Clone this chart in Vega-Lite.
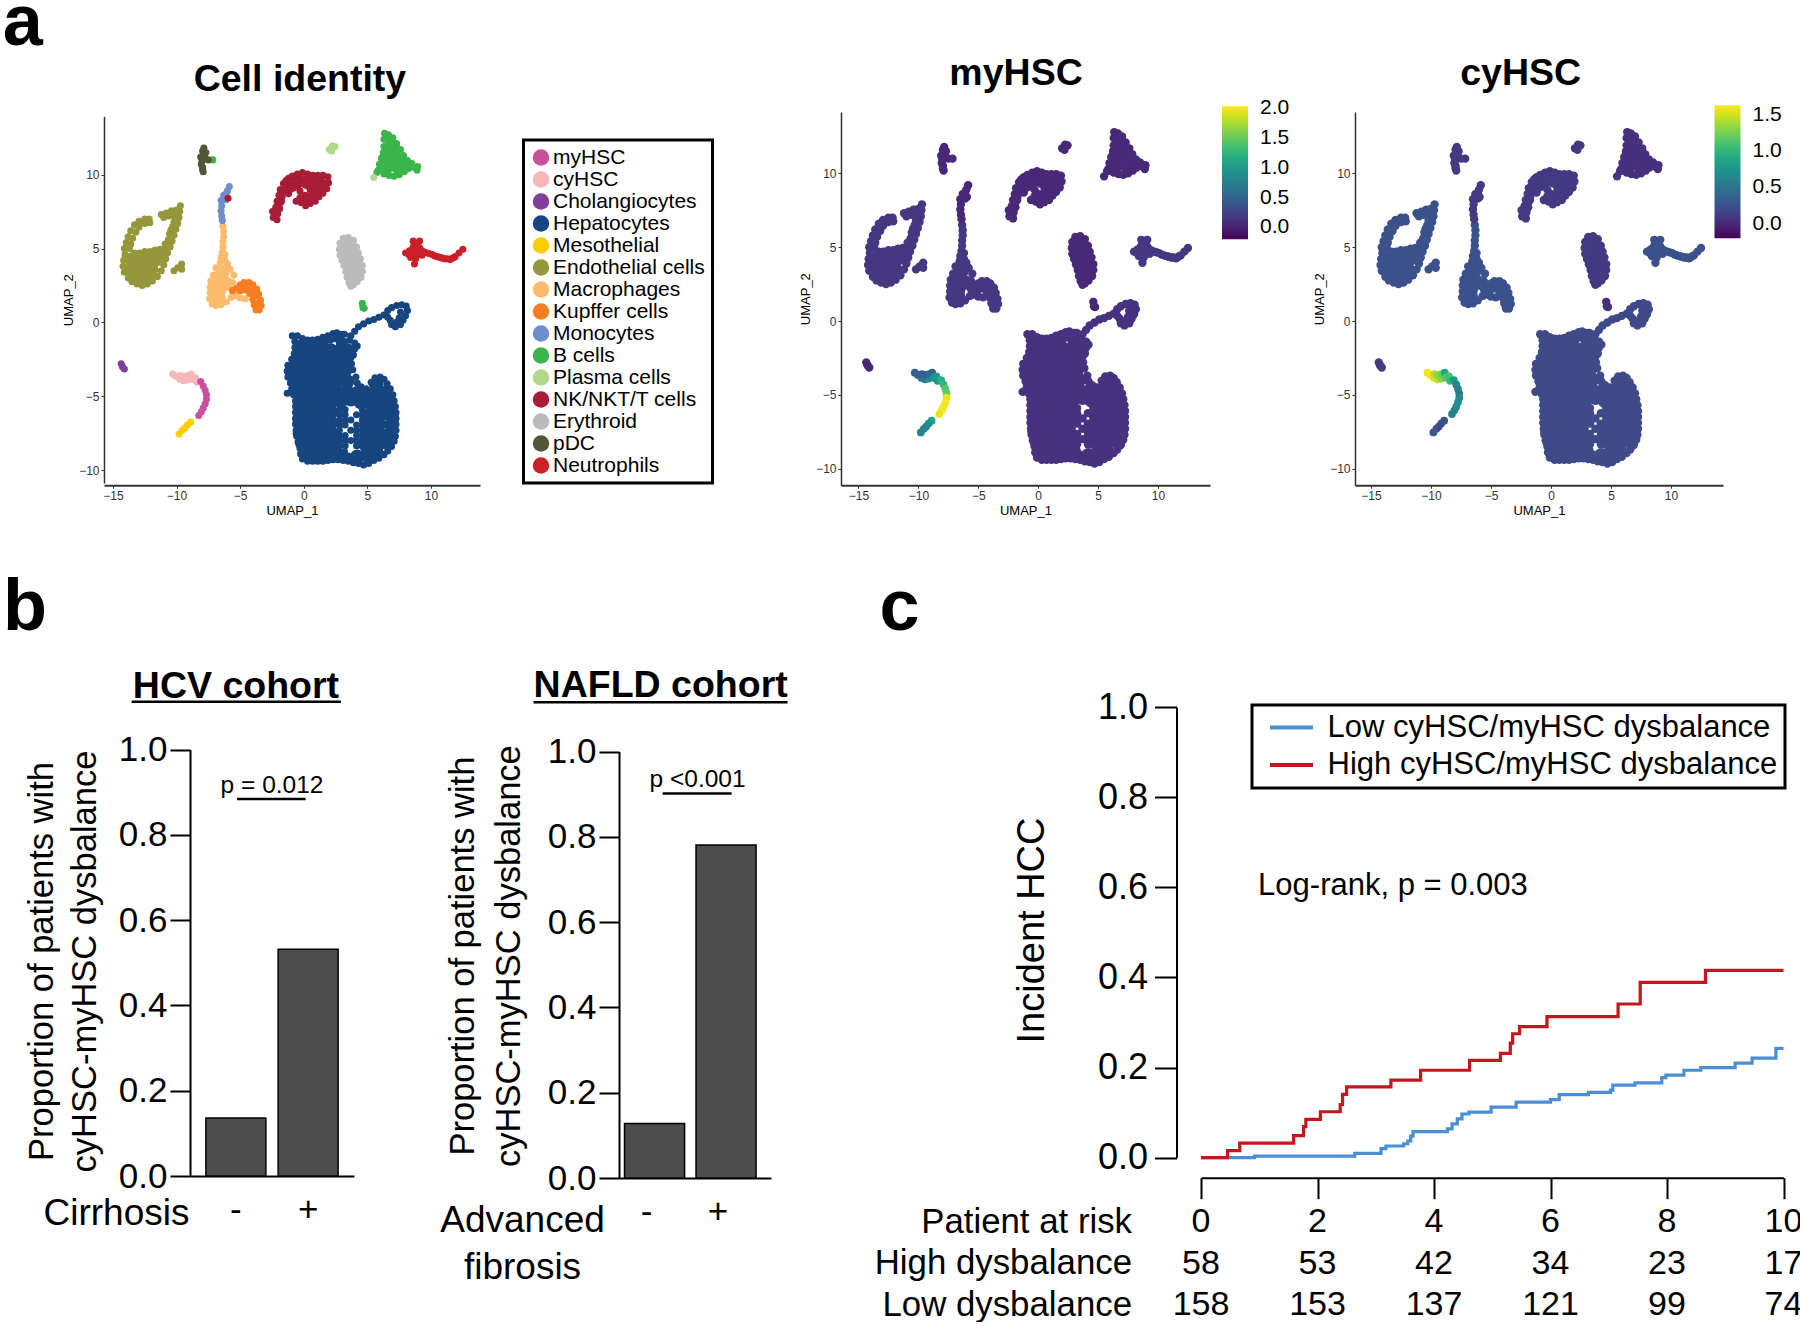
{"$schema":"https://vega.github.io/schema/vega-lite/v6.json","background":"white","padding":{"left":2,"top":-13,"right":0,"bottom":0},
"config":{"font":"Liberation Sans","view":{"stroke":null},"axis":{"grid":false},"legend":{"strokeWidth":3}},
"resolve":{"scale":{"color":"independent"},"legend":{"color":"independent"}},
"datasets":{
"expr":[{"c":"Hepatocytes","m":0.12,"k":0.2},{"c":"Endothelial cells","m":0.15,"k":0.25},{"c":"Macrophages","m":0.15,"k":0.25},{"c":"Kupffer cells","m":0.15,"k":0.25},{"c":"Monocytes","m":0.05,"k":0.1},{"c":"NK/NKT/T cells","m":0.05,"k":0.1},{"c":"B cells","m":0.05,"k":0.05},{"c":"Plasma cells","m":0.05,"k":0.1},{"c":"pDC","m":0.05,"k":0.1},{"c":"Erythroid","m":0.05,"k":0.1},{"c":"Neutrophils","m":0.15,"k":0.25},{"c":"Cholangiocytes","m":0.05,"k":0.1}],
"hsc":[{"x":-10.3,"y":-3.5,"c":"cyHSC","m":0.45,"k":1.6},{"x":-10.05,"y":-3.65,"c":"cyHSC","m":0.5,"k":1.6},{"x":-9.75,"y":-3.85,"c":"cyHSC","m":0.6,"k":1.55},{"x":-9.45,"y":-3.95,"c":"cyHSC","m":0.7,"k":1.45},{"x":-9.15,"y":-3.9,"c":"cyHSC","m":0.9,"k":1.3},{"x":-9.7,"y":-3.6,"c":"cyHSC","m":0.45,"k":1.4},{"x":-9.4,"y":-3.65,"c":"cyHSC","m":0.5,"k":1.3},{"x":-9.1,"y":-3.6,"c":"cyHSC","m":0.6,"k":1.2},{"x":-8.85,"y":-3.5,"c":"cyHSC","m":0.5,"k":0.9},{"x":-8.75,"y":-3.85,"c":"cyHSC","m":0.9,"k":1.15},{"x":-8.5,"y":-3.75,"c":"cyHSC","m":1.0,"k":1.1},{"x":-8.4,"y":-4.05,"c":"cyHSC","m":1.0,"k":1.0},{"x":-8.1,"y":-4.0,"c":"myHSC","m":1.2,"k":0.8},{"x":-7.9,"y":-4.3,"c":"myHSC","m":1.3,"k":0.6},{"x":-7.75,"y":-4.6,"c":"myHSC","m":1.45,"k":0.6},{"x":-7.65,"y":-4.9,"c":"myHSC","m":1.5,"k":0.55},{"x":-7.65,"y":-5.2,"c":"myHSC","m":1.95,"k":0.65},{"x":-7.75,"y":-5.5,"c":"myHSC","m":2.0,"k":0.7},{"x":-7.9,"y":-5.8,"c":"myHSC","m":2.0,"k":0.7},{"x":-8.05,"y":-6.05,"c":"myHSC","m":2.0,"k":0.65},{"x":-8.25,"y":-6.3,"c":"myHSC","m":1.95,"k":0.6},{"x":-8.9,"y":-6.75,"c":"Mesothelial","m":1.1,"k":0.25},{"x":-9.15,"y":-6.95,"c":"Mesothelial","m":0.9,"k":0.25},{"x":-9.35,"y":-7.15,"c":"Mesothelial","m":0.85,"k":0.2},{"x":-9.55,"y":-7.3,"c":"Mesothelial","m":0.8,"k":0.2},{"x":-9.8,"y":-7.55,"c":"Mesothelial","m":0.8,"k":0.3}],
"core":[
{"x":-0.3,"y":-1.9,"c":"Hepatocytes"},{"x":0.5,"y":-1.9,"c":"Hepatocytes"},{"x":1.3,"y":-1.9,"c":"Hepatocytes"},{"x":2.1,"y":-1.9,"c":"Hepatocytes"},{"x":2.9,"y":-1.9,"c":"Hepatocytes"},{"x":3.4,"y":-1.9,"c":"Hepatocytes"},
{"x":-0.6,"y":-2.6,"c":"Hepatocytes"},{"x":0.2,"y":-2.6,"c":"Hepatocytes"},{"x":1.0,"y":-2.6,"c":"Hepatocytes"},{"x":1.8,"y":-2.6,"c":"Hepatocytes"},{"x":2.6,"y":-2.6,"c":"Hepatocytes"},{"x":3.3,"y":-2.6,"c":"Hepatocytes"},
{"x":-0.9,"y":-3.3,"c":"Hepatocytes"},{"x":-0.1,"y":-3.3,"c":"Hepatocytes"},{"x":0.7,"y":-3.3,"c":"Hepatocytes"},{"x":1.5,"y":-3.3,"c":"Hepatocytes"},{"x":2.3,"y":-3.3,"c":"Hepatocytes"},{"x":3.2,"y":-3.3,"c":"Hepatocytes"},
{"x":-0.7,"y":-4.0,"c":"Hepatocytes"},{"x":0.1,"y":-4.0,"c":"Hepatocytes"},{"x":0.9,"y":-4.0,"c":"Hepatocytes"},{"x":1.7,"y":-4.0,"c":"Hepatocytes"},{"x":2.5,"y":-4.0,"c":"Hepatocytes"},{"x":3.4,"y":-4.0,"c":"Hepatocytes"},{"x":5.7,"y":-4.2,"c":"Hepatocytes"},
{"x":-0.5,"y":-4.7,"c":"Hepatocytes"},{"x":0.2,"y":-4.7,"c":"Hepatocytes"},{"x":1.0,"y":-4.7,"c":"Hepatocytes"},{"x":1.8,"y":-4.7,"c":"Hepatocytes"},{"x":2.6,"y":-4.7,"c":"Hepatocytes"},{"x":3.4,"y":-4.7,"c":"Hepatocytes"},{"x":4.2,"y":-4.8,"c":"Hepatocytes"},{"x":5.0,"y":-4.9,"c":"Hepatocytes"},{"x":5.8,"y":-4.8,"c":"Hepatocytes"},{"x":6.3,"y":-4.8,"c":"Hepatocytes"},
{"x":-0.3,"y":-5.4,"c":"Hepatocytes"},{"x":0.5,"y":-5.4,"c":"Hepatocytes"},{"x":1.3,"y":-5.4,"c":"Hepatocytes"},{"x":2.1,"y":-5.4,"c":"Hepatocytes"},{"x":2.9,"y":-5.3,"c":"Hepatocytes"},{"x":3.7,"y":-5.2,"c":"Hepatocytes"},{"x":4.5,"y":-5.4,"c":"Hepatocytes"},{"x":5.3,"y":-5.5,"c":"Hepatocytes"},{"x":6.1,"y":-5.5,"c":"Hepatocytes"},{"x":6.7,"y":-5.5,"c":"Hepatocytes"},
{"x":-0.3,"y":-6.1,"c":"Hepatocytes"},{"x":0.5,"y":-6.1,"c":"Hepatocytes"},{"x":1.3,"y":-6.1,"c":"Hepatocytes"},{"x":2.1,"y":-6.1,"c":"Hepatocytes"},{"x":5.3,"y":-6.2,"c":"Hepatocytes"},{"x":6.1,"y":-6.2,"c":"Hepatocytes"},{"x":6.9,"y":-6.2,"c":"Hepatocytes"},
{"x":-0.3,"y":-6.8,"c":"Hepatocytes"},{"x":0.5,"y":-6.8,"c":"Hepatocytes"},{"x":1.3,"y":-6.8,"c":"Hepatocytes"},{"x":2.1,"y":-6.8,"c":"Hepatocytes"},{"x":5.1,"y":-6.9,"c":"Hepatocytes"},{"x":5.9,"y":-6.9,"c":"Hepatocytes"},{"x":6.9,"y":-6.9,"c":"Hepatocytes"},
{"x":-0.3,"y":-7.5,"c":"Hepatocytes"},{"x":0.5,"y":-7.5,"c":"Hepatocytes"},{"x":1.3,"y":-7.5,"c":"Hepatocytes"},{"x":2.1,"y":-7.5,"c":"Hepatocytes"},{"x":5.1,"y":-7.6,"c":"Hepatocytes"},{"x":5.9,"y":-7.6,"c":"Hepatocytes"},{"x":6.7,"y":-7.6,"c":"Hepatocytes"},
{"x":-0.1,"y":-8.2,"c":"Hepatocytes"},{"x":0.7,"y":-8.2,"c":"Hepatocytes"},{"x":1.5,"y":-8.2,"c":"Hepatocytes"},{"x":2.3,"y":-8.2,"c":"Hepatocytes"},{"x":4.9,"y":-8.3,"c":"Hepatocytes"},{"x":5.7,"y":-8.3,"c":"Hepatocytes"},{"x":6.4,"y":-8.1,"c":"Hepatocytes"},
{"x":0.3,"y":-8.9,"c":"Hepatocytes"},{"x":1.0,"y":-8.9,"c":"Hepatocytes"},{"x":1.8,"y":-8.9,"c":"Hepatocytes"},{"x":2.6,"y":-8.9,"c":"Hepatocytes"},{"x":4.2,"y":-9.1,"c":"Hepatocytes"},{"x":5.0,"y":-9.0,"c":"Hepatocytes"},{"x":5.7,"y":-8.8,"c":"Hepatocytes"},
{"x":-13.5,"y":4.25,"c":"Endothelial cells"},{"x":-12.9,"y":4.25,"c":"Endothelial cells"},{"x":-12.1,"y":4.25,"c":"Endothelial cells"},{"x":-11.5,"y":4.3,"c":"Endothelial cells"},{"x":-13.5,"y":3.6,"c":"Endothelial cells"},{"x":-12.8,"y":3.6,"c":"Endothelial cells"},{"x":-12.0,"y":3.6,"c":"Endothelial cells"},{"x":-13.0,"y":3.0,"c":"Endothelial cells"},{"x":-12.3,"y":3.1,"c":"Endothelial cells"},
{"x":-6.4,"y":3.4,"c":"Macrophages"},{"x":-6.7,"y":2.8,"c":"Macrophages"},{"x":-6.7,"y":2.1,"c":"Macrophages"},{"x":-6.7,"y":1.7,"c":"Macrophages"},{"x":-6.1,"y":2.6,"c":"Macrophages"},
{"x":-0.5,"y":9.55,"c":"NK/NKT/T cells"},{"x":0.3,"y":9.5,"c":"NK/NKT/T cells"},{"x":1.2,"y":9.4,"c":"NK/NKT/T cells"},{"x":0.8,"y":9.0,"c":"NK/NKT/T cells"},
{"x":6.9,"y":11.9,"c":"B cells"},{"x":6.8,"y":11.3,"c":"B cells"},{"x":7.3,"y":11.1,"c":"B cells"},{"x":6.6,"y":10.6,"c":"B cells"},{"x":7.4,"y":10.55,"c":"B cells"},
{"x":3.5,"y":5.1,"c":"Erythroid"},{"x":3.6,"y":4.5,"c":"Erythroid"},{"x":3.85,"y":3.85,"c":"Erythroid"},{"x":4.0,"y":3.3,"c":"Erythroid"}],
"edge":[
{"x":-0.9,"y":-0.9,"c":"Hepatocytes"},{"x":-0.5,"y":-0.9,"c":"Hepatocytes"},{"x":-0.1,"y":-1.1,"c":"Hepatocytes"},{"x":0.3,"y":-1.2,"c":"Hepatocytes"},{"x":0.7,"y":-1.2,"c":"Hepatocytes"},{"x":1.1,"y":-1.15,"c":"Hepatocytes"},{"x":1.5,"y":-1.0,"c":"Hepatocytes"},{"x":1.9,"y":-0.9,"c":"Hepatocytes"},{"x":2.3,"y":-0.75,"c":"Hepatocytes"},{"x":2.6,"y":-0.7,"c":"Hepatocytes"},
{"x":-0.7,"y":-1.3,"c":"Hepatocytes"},{"x":-0.3,"y":-1.4,"c":"Hepatocytes"},{"x":0.1,"y":-1.5,"c":"Hepatocytes"},{"x":0.5,"y":-1.5,"c":"Hepatocytes"},{"x":0.9,"y":-1.5,"c":"Hepatocytes"},{"x":1.3,"y":-1.4,"c":"Hepatocytes"},{"x":1.7,"y":-1.3,"c":"Hepatocytes"},{"x":2.1,"y":-1.2,"c":"Hepatocytes"},{"x":2.5,"y":-1.1,"c":"Hepatocytes"},{"x":2.9,"y":-1.1,"c":"Hepatocytes"},{"x":3.2,"y":-0.8,"c":"Hepatocytes"},{"x":3.0,"y":-0.8,"c":"Hepatocytes"},{"x":2.8,"y":-1.4,"c":"Hepatocytes"},{"x":3.2,"y":-1.3,"c":"Hepatocytes"},{"x":3.6,"y":-1.2,"c":"Hepatocytes"},{"x":4.0,"y":-1.4,"c":"Hepatocytes"},{"x":4.0,"y":-1.8,"c":"Hepatocytes"},{"x":3.9,"y":-2.2,"c":"Hepatocytes"},{"x":4.2,"y":-1.6,"c":"Hepatocytes"},
{"x":3.7,"y":-0.9,"c":"Hepatocytes"},{"x":4.0,"y":-0.6,"c":"Hepatocytes"},{"x":4.3,"y":-0.3,"c":"Hepatocytes"},{"x":4.7,"y":-0.1,"c":"Hepatocytes"},{"x":5.1,"y":0.1,"c":"Hepatocytes"},{"x":5.5,"y":0.2,"c":"Hepatocytes"},{"x":5.9,"y":0.35,"c":"Hepatocytes"},{"x":6.3,"y":0.5,"c":"Hepatocytes"},{"x":6.6,"y":0.8,"c":"Hepatocytes"},{"x":6.9,"y":1.0,"c":"Hepatocytes"},{"x":7.3,"y":1.15,"c":"Hepatocytes"},{"x":7.7,"y":1.2,"c":"Hepatocytes"},{"x":8.05,"y":1.1,"c":"Hepatocytes"},{"x":8.15,"y":0.8,"c":"Hepatocytes"},{"x":8.0,"y":0.45,"c":"Hepatocytes"},{"x":7.8,"y":0.15,"c":"Hepatocytes"},{"x":7.6,"y":-0.15,"c":"Hepatocytes"},{"x":7.2,"y":-0.3,"c":"Hepatocytes"},{"x":6.9,"y":-0.15,"c":"Hepatocytes"},{"x":6.8,"y":0.15,"c":"Hepatocytes"},{"x":6.6,"y":0.35,"c":"Hepatocytes"},{"x":7.3,"y":0.0,"c":"Hepatocytes"},{"x":7.5,"y":0.3,"c":"Hepatocytes"},{"x":7.6,"y":0.7,"c":"Hepatocytes"},
{"x":-0.7,"y":-1.7,"c":"Hepatocytes"},{"x":-0.75,"y":-2.1,"c":"Hepatocytes"},{"x":-0.95,"y":-2.5,"c":"Hepatocytes"},{"x":-1.25,"y":-2.9,"c":"Hepatocytes"},{"x":-1.3,"y":-3.3,"c":"Hepatocytes"},{"x":-1.25,"y":-3.7,"c":"Hepatocytes"},{"x":-1.05,"y":-4.1,"c":"Hepatocytes"},{"x":-0.95,"y":-4.5,"c":"Hepatocytes"},{"x":-0.8,"y":-4.9,"c":"Hepatocytes"},{"x":-0.65,"y":-5.3,"c":"Hepatocytes"},{"x":-0.65,"y":-5.7,"c":"Hepatocytes"},{"x":-0.65,"y":-6.1,"c":"Hepatocytes"},{"x":-0.65,"y":-6.5,"c":"Hepatocytes"},{"x":-0.65,"y":-6.9,"c":"Hepatocytes"},{"x":-0.6,"y":-7.3,"c":"Hepatocytes"},{"x":-0.55,"y":-7.7,"c":"Hepatocytes"},{"x":-0.45,"y":-8.1,"c":"Hepatocytes"},{"x":-0.3,"y":-8.5,"c":"Hepatocytes"},{"x":-0.25,"y":-8.9,"c":"Hepatocytes"},{"x":-0.1,"y":-9.25,"c":"Hepatocytes"},{"x":-1.3,"y":-4.8,"c":"Hepatocytes"},
{"x":0.3,"y":-9.4,"c":"Hepatocytes"},{"x":0.7,"y":-9.4,"c":"Hepatocytes"},{"x":1.1,"y":-9.4,"c":"Hepatocytes"},{"x":1.5,"y":-9.4,"c":"Hepatocytes"},{"x":1.9,"y":-9.35,"c":"Hepatocytes"},{"x":2.3,"y":-9.3,"c":"Hepatocytes"},{"x":2.7,"y":-9.3,"c":"Hepatocytes"},{"x":3.1,"y":-9.35,"c":"Hepatocytes"},{"x":3.5,"y":-9.4,"c":"Hepatocytes"},{"x":3.9,"y":-9.5,"c":"Hepatocytes"},{"x":4.3,"y":-9.55,"c":"Hepatocytes"},{"x":4.7,"y":-9.65,"c":"Hepatocytes"},{"x":5.1,"y":-9.55,"c":"Hepatocytes"},{"x":5.5,"y":-9.35,"c":"Hepatocytes"},{"x":5.9,"y":-9.2,"c":"Hepatocytes"},{"x":6.3,"y":-8.95,"c":"Hepatocytes"},{"x":6.6,"y":-8.7,"c":"Hepatocytes"},{"x":6.9,"y":-8.4,"c":"Hepatocytes"},{"x":7.1,"y":-8.05,"c":"Hepatocytes"},{"x":7.2,"y":-7.7,"c":"Hepatocytes"},
{"x":7.25,"y":-7.3,"c":"Hepatocytes"},{"x":7.25,"y":-6.9,"c":"Hepatocytes"},{"x":7.25,"y":-6.5,"c":"Hepatocytes"},{"x":7.25,"y":-6.1,"c":"Hepatocytes"},{"x":7.2,"y":-5.7,"c":"Hepatocytes"},{"x":7.1,"y":-5.3,"c":"Hepatocytes"},{"x":7.0,"y":-4.9,"c":"Hepatocytes"},{"x":6.8,"y":-4.5,"c":"Hepatocytes"},{"x":6.55,"y":-4.15,"c":"Hepatocytes"},{"x":6.3,"y":-3.85,"c":"Hepatocytes"},{"x":6.0,"y":-3.7,"c":"Hepatocytes"},{"x":5.6,"y":-3.75,"c":"Hepatocytes"},{"x":5.3,"y":-4.05,"c":"Hepatocytes"},{"x":4.9,"y":-4.5,"c":"Hepatocytes"},{"x":4.5,"y":-4.35,"c":"Hepatocytes"},{"x":4.2,"y":-4.1,"c":"Hepatocytes"},{"x":4.1,"y":-3.7,"c":"Hepatocytes"},{"x":3.85,"y":-3.2,"c":"Hepatocytes"},{"x":3.75,"y":-2.8,"c":"Hepatocytes"},{"x":3.7,"y":-2.4,"c":"Hepatocytes"},
{"x":2.8,"y":-5.9,"c":"Hepatocytes"},{"x":3.25,"y":-5.9,"c":"Hepatocytes"},{"x":4.6,"y":-5.9,"c":"Hepatocytes"},{"x":2.8,"y":-6.25,"c":"Hepatocytes"},{"x":3.25,"y":-6.25,"c":"Hepatocytes"},{"x":4.15,"y":-6.25,"c":"Hepatocytes"},{"x":4.6,"y":-6.25,"c":"Hepatocytes"},{"x":2.8,"y":-6.6,"c":"Hepatocytes"},{"x":3.25,"y":-6.6,"c":"Hepatocytes"},{"x":3.7,"y":-6.6,"c":"Hepatocytes"},{"x":4.6,"y":-6.6,"c":"Hepatocytes"},{"x":2.8,"y":-6.95,"c":"Hepatocytes"},{"x":3.25,"y":-6.95,"c":"Hepatocytes"},{"x":4.15,"y":-6.95,"c":"Hepatocytes"},{"x":4.6,"y":-6.95,"c":"Hepatocytes"},{"x":2.8,"y":-7.3,"c":"Hepatocytes"},{"x":3.7,"y":-7.3,"c":"Hepatocytes"},{"x":4.15,"y":-7.3,"c":"Hepatocytes"},{"x":4.6,"y":-7.3,"c":"Hepatocytes"},{"x":2.8,"y":-7.65,"c":"Hepatocytes"},{"x":3.25,"y":-7.65,"c":"Hepatocytes"},{"x":4.15,"y":-7.65,"c":"Hepatocytes"},{"x":4.6,"y":-7.65,"c":"Hepatocytes"},{"x":2.8,"y":-8.0,"c":"Hepatocytes"},{"x":3.25,"y":-8.0,"c":"Hepatocytes"},{"x":3.7,"y":-8.0,"c":"Hepatocytes"},{"x":4.15,"y":-8.0,"c":"Hepatocytes"},{"x":4.6,"y":-8.0,"c":"Hepatocytes"},{"x":2.8,"y":-8.35,"c":"Hepatocytes"},{"x":3.25,"y":-8.35,"c":"Hepatocytes"},{"x":4.15,"y":-8.35,"c":"Hepatocytes"},{"x":4.6,"y":-8.35,"c":"Hepatocytes"},{"x":3.2,"y":-8.75,"c":"Hepatocytes"},{"x":3.5,"y":-9.05,"c":"Hepatocytes"},{"x":3.0,"y":-9.0,"c":"Hepatocytes"},
{"x":-14.1,"y":5.0,"c":"Endothelial cells"},{"x":-14.05,"y":4.6,"c":"Endothelial cells"},{"x":-14.15,"y":4.2,"c":"Endothelial cells"},{"x":-14.2,"y":3.8,"c":"Endothelial cells"},{"x":-14.1,"y":3.4,"c":"Endothelial cells"},{"x":-13.8,"y":3.0,"c":"Endothelial cells"},{"x":-13.5,"y":2.75,"c":"Endothelial cells"},{"x":-13.1,"y":2.6,"c":"Endothelial cells"},{"x":-12.7,"y":2.5,"c":"Endothelial cells"},{"x":-12.3,"y":2.6,"c":"Endothelial cells"},{"x":-11.9,"y":2.8,"c":"Endothelial cells"},{"x":-11.5,"y":3.1,"c":"Endothelial cells"},{"x":-11.2,"y":3.5,"c":"Endothelial cells"},{"x":-11.0,"y":3.9,"c":"Endothelial cells"},{"x":-10.85,"y":4.3,"c":"Endothelial cells"},{"x":-10.7,"y":4.7,"c":"Endothelial cells"},{"x":-13.7,"y":5.0,"c":"Endothelial cells"},{"x":-13.3,"y":4.7,"c":"Endothelial cells"},{"x":-12.9,"y":4.7,"c":"Endothelial cells"},{"x":-12.5,"y":4.8,"c":"Endothelial cells"},{"x":-12.1,"y":4.8,"c":"Endothelial cells"},{"x":-11.7,"y":4.9,"c":"Endothelial cells"},{"x":-11.3,"y":4.95,"c":"Endothelial cells"},{"x":-11.0,"y":4.9,"c":"Endothelial cells"},{"x":-13.95,"y":5.4,"c":"Endothelial cells"},{"x":-13.8,"y":5.8,"c":"Endothelial cells"},{"x":-13.6,"y":6.2,"c":"Endothelial cells"},{"x":-13.3,"y":6.6,"c":"Endothelial cells"},{"x":-12.95,"y":6.85,"c":"Endothelial cells"},{"x":-12.5,"y":7.0,"c":"Endothelial cells"},{"x":-12.15,"y":7.0,"c":"Endothelial cells"},{"x":-10.5,"y":5.1,"c":"Endothelial cells"},{"x":-10.35,"y":5.5,"c":"Endothelial cells"},{"x":-10.2,"y":5.9,"c":"Endothelial cells"},{"x":-10.05,"y":6.3,"c":"Endothelial cells"},{"x":-9.9,"y":6.7,"c":"Endothelial cells"},{"x":-9.8,"y":7.1,"c":"Endothelial cells"},{"x":-9.75,"y":7.5,"c":"Endothelial cells"},{"x":-9.7,"y":7.9,"c":"Endothelial cells"},{"x":-10.0,"y":7.6,"c":"Endothelial cells"},{"x":-10.1,"y":7.1,"c":"Endothelial cells"},{"x":-10.3,"y":6.5,"c":"Endothelial cells"},{"x":-10.55,"y":6.0,"c":"Endothelial cells"},{"x":-10.75,"y":5.2,"c":"Endothelial cells"},{"x":-10.65,"y":5.6,"c":"Endothelial cells"},{"x":-11.2,"y":7.3,"c":"Endothelial cells"},{"x":-10.8,"y":7.4,"c":"Endothelial cells"},{"x":-10.4,"y":7.55,"c":"Endothelial cells"},{"x":-11.0,"y":7.1,"c":"Endothelial cells"},{"x":-10.2,"y":3.5,"c":"Endothelial cells"},{"x":-9.9,"y":3.7,"c":"Endothelial cells"},{"x":-9.6,"y":3.95,"c":"Endothelial cells"},{"x":-9.6,"y":3.6,"c":"Endothelial cells"},
{"x":-13.6,"y":5.3,"c":"Endothelial cells"},{"x":-13.45,"y":5.7,"c":"Endothelial cells"},{"x":-13.2,"y":6.1,"c":"Endothelial cells"},{"x":-12.95,"y":6.45,"c":"Endothelial cells"},{"x":-12.5,"y":6.7,"c":"Endothelial cells"},{"x":-12.1,"y":6.75,"c":"Endothelial cells"},{"x":-10.9,"y":4.95,"c":"Endothelial cells"},{"x":-10.9,"y":5.3,"c":"Endothelial cells"},{"x":-10.45,"y":6.25,"c":"Endothelial cells"},{"x":-10.2,"y":6.8,"c":"Endothelial cells"},{"x":-9.95,"y":7.3,"c":"Endothelial cells"},{"x":-10.6,"y":7.2,"c":"Endothelial cells"},{"x":-10.2,"y":7.4,"c":"Endothelial cells"},{"x":-11.1,"y":4.6,"c":"Endothelial cells"},
{"x":-6.35,"y":6.5,"c":"Macrophages"},{"x":-6.3,"y":6.15,"c":"Macrophages"},{"x":-6.3,"y":5.8,"c":"Macrophages"},{"x":-6.35,"y":5.45,"c":"Macrophages"},{"x":-6.35,"y":5.1,"c":"Macrophages"},{"x":-6.4,"y":4.75,"c":"Macrophages"},{"x":-6.5,"y":4.4,"c":"Macrophages"},{"x":-6.2,"y":4.6,"c":"Macrophages"},{"x":-6.2,"y":4.2,"c":"Macrophages"},{"x":-6.55,"y":4.05,"c":"Macrophages"},{"x":-7.1,"y":3.2,"c":"Macrophages"},{"x":-7.3,"y":2.8,"c":"Macrophages"},{"x":-7.35,"y":2.4,"c":"Macrophages"},{"x":-7.35,"y":2.0,"c":"Macrophages"},{"x":-7.4,"y":1.6,"c":"Macrophages"},{"x":-7.2,"y":1.25,"c":"Macrophages"},{"x":-6.9,"y":1.15,"c":"Macrophages"},{"x":-6.5,"y":1.2,"c":"Macrophages"},{"x":-6.1,"y":1.4,"c":"Macrophages"},{"x":-5.7,"y":1.7,"c":"Macrophages"},{"x":-5.3,"y":1.8,"c":"Macrophages"},{"x":-5.0,"y":1.65,"c":"Macrophages"},{"x":-4.6,"y":1.6,"c":"Macrophages"},{"x":-5.6,"y":2.7,"c":"Macrophages"},{"x":-5.5,"y":3.2,"c":"Macrophages"},{"x":-5.8,"y":3.6,"c":"Macrophages"},{"x":-6.0,"y":3.95,"c":"Macrophages"},{"x":-6.9,"y":3.7,"c":"Macrophages"},{"x":-5.4,"y":2.3,"c":"Macrophages"},{"x":-5.5,"y":1.9,"c":"Macrophages"},
{"x":-5.6,"y":2.15,"c":"Kupffer cells"},{"x":-5.3,"y":2.3,"c":"Kupffer cells"},{"x":-5.0,"y":2.55,"c":"Kupffer cells"},{"x":-4.7,"y":2.7,"c":"Kupffer cells"},{"x":-4.3,"y":2.7,"c":"Kupffer cells"},{"x":-4.0,"y":2.55,"c":"Kupffer cells"},{"x":-3.7,"y":2.25,"c":"Kupffer cells"},{"x":-3.55,"y":1.9,"c":"Kupffer cells"},{"x":-3.4,"y":1.5,"c":"Kupffer cells"},{"x":-3.35,"y":1.15,"c":"Kupffer cells"},{"x":-3.5,"y":0.85,"c":"Kupffer cells"},{"x":-3.75,"y":0.85,"c":"Kupffer cells"},{"x":-3.9,"y":1.2,"c":"Kupffer cells"},{"x":-4.0,"y":1.55,"c":"Kupffer cells"},{"x":-4.25,"y":1.95,"c":"Kupffer cells"},{"x":-4.6,"y":2.2,"c":"Kupffer cells"},{"x":-5.0,"y":2.15,"c":"Kupffer cells"},{"x":-4.5,"y":2.4,"c":"Kupffer cells"},{"x":-4.1,"y":2.2,"c":"Kupffer cells"},{"x":-3.8,"y":1.8,"c":"Kupffer cells"},{"x":-3.7,"y":1.3,"c":"Kupffer cells"},
{"x":-5.85,"y":9.2,"c":"Monocytes"},{"x":-6.0,"y":8.9,"c":"Monocytes"},{"x":-6.3,"y":8.6,"c":"Monocytes"},{"x":-6.1,"y":8.3,"c":"Monocytes"},{"x":-6.5,"y":8.25,"c":"Monocytes"},{"x":-6.45,"y":7.9,"c":"Monocytes"},{"x":-6.5,"y":7.55,"c":"Monocytes"},{"x":-6.45,"y":7.2,"c":"Monocytes"},{"x":-6.4,"y":6.9,"c":"Monocytes"},{"x":-6.1,"y":8.7,"c":"Monocytes"},
{"x":-2.4,"y":7.1,"c":"NK/NKT/T cells"},{"x":-2.1,"y":6.95,"c":"NK/NKT/T cells"},{"x":-2.45,"y":7.5,"c":"NK/NKT/T cells"},{"x":-2.05,"y":7.35,"c":"NK/NKT/T cells"},{"x":-2.2,"y":7.8,"c":"NK/NKT/T cells"},{"x":-1.9,"y":7.7,"c":"NK/NKT/T cells"},{"x":-2.1,"y":8.2,"c":"NK/NKT/T cells"},{"x":-1.85,"y":8.1,"c":"NK/NKT/T cells"},{"x":-1.95,"y":8.6,"c":"NK/NKT/T cells"},{"x":-1.7,"y":8.5,"c":"NK/NKT/T cells"},{"x":-1.85,"y":9.0,"c":"NK/NKT/T cells"},{"x":-1.55,"y":8.9,"c":"NK/NKT/T cells"},{"x":-1.6,"y":9.4,"c":"NK/NKT/T cells"},{"x":-1.3,"y":9.3,"c":"NK/NKT/T cells"},{"x":-1.2,"y":9.75,"c":"NK/NKT/T cells"},{"x":-0.9,"y":9.9,"c":"NK/NKT/T cells"},{"x":-0.5,"y":10.05,"c":"NK/NKT/T cells"},{"x":-0.1,"y":10.15,"c":"NK/NKT/T cells"},{"x":0.3,"y":10.05,"c":"NK/NKT/T cells"},{"x":0.7,"y":9.95,"c":"NK/NKT/T cells"},{"x":1.1,"y":9.95,"c":"NK/NKT/T cells"},{"x":1.5,"y":9.95,"c":"NK/NKT/T cells"},{"x":1.9,"y":9.85,"c":"NK/NKT/T cells"},{"x":1.95,"y":9.45,"c":"NK/NKT/T cells"},{"x":1.8,"y":9.05,"c":"NK/NKT/T cells"},{"x":1.5,"y":8.75,"c":"NK/NKT/T cells"},{"x":1.2,"y":8.5,"c":"NK/NKT/T cells"},{"x":0.9,"y":8.2,"c":"NK/NKT/T cells"},{"x":0.5,"y":8.05,"c":"NK/NKT/T cells"},{"x":0.15,"y":7.9,"c":"NK/NKT/T cells"},{"x":-0.2,"y":8.1,"c":"NK/NKT/T cells"},{"x":-0.6,"y":8.2,"c":"NK/NKT/T cells"},{"x":-1.2,"y":8.7,"c":"NK/NKT/T cells"},{"x":-0.8,"y":9.1,"c":"NK/NKT/T cells"},{"x":-0.3,"y":8.9,"c":"NK/NKT/T cells"},{"x":0.1,"y":8.6,"c":"NK/NKT/T cells"},{"x":0.5,"y":8.5,"c":"NK/NKT/T cells"},{"x":-5.95,"y":8.4,"c":"NK/NKT/T cells"},
{"x":-1.2,"y":9.3,"c":"NK/NKT/T cells"},{"x":-1.4,"y":9.6,"c":"NK/NKT/T cells"},{"x":-1.5,"y":9.0,"c":"NK/NKT/T cells"},{"x":-1.05,"y":9.0,"c":"NK/NKT/T cells"},{"x":1.6,"y":9.4,"c":"NK/NKT/T cells"},{"x":1.5,"y":9.1,"c":"NK/NKT/T cells"},{"x":1.1,"y":8.85,"c":"NK/NKT/T cells"},{"x":0.9,"y":8.55,"c":"NK/NKT/T cells"},{"x":0.5,"y":8.25,"c":"NK/NKT/T cells"},{"x":0.1,"y":8.2,"c":"NK/NKT/T cells"},{"x":-0.3,"y":8.45,"c":"NK/NKT/T cells"},{"x":-1.75,"y":8.2,"c":"NK/NKT/T cells"},
{"x":6.35,"y":12.8,"c":"B cells"},{"x":6.65,"y":12.7,"c":"B cells"},{"x":6.3,"y":12.4,"c":"B cells"},{"x":7.0,"y":12.5,"c":"B cells"},{"x":7.3,"y":12.1,"c":"B cells"},{"x":6.3,"y":11.9,"c":"B cells"},{"x":7.6,"y":11.7,"c":"B cells"},{"x":6.25,"y":11.5,"c":"B cells"},{"x":7.85,"y":11.3,"c":"B cells"},{"x":6.1,"y":11.1,"c":"B cells"},{"x":8.15,"y":10.95,"c":"B cells"},{"x":5.95,"y":10.7,"c":"B cells"},{"x":8.5,"y":10.75,"c":"B cells"},{"x":8.95,"y":10.55,"c":"B cells"},{"x":8.9,"y":10.3,"c":"B cells"},{"x":5.85,"y":10.3,"c":"B cells"},{"x":5.75,"y":10.15,"c":"B cells"},{"x":6.3,"y":10.05,"c":"B cells"},{"x":6.7,"y":9.95,"c":"B cells"},{"x":7.1,"y":9.9,"c":"B cells"},{"x":7.5,"y":10.0,"c":"B cells"},{"x":7.9,"y":10.2,"c":"B cells"},{"x":8.2,"y":10.4,"c":"B cells"},{"x":7.9,"y":10.9,"c":"B cells"},{"x":4.6,"y":1.3,"c":"B cells"},{"x":4.65,"y":1.0,"c":"B cells"},{"x":4.75,"y":0.95,"c":"B cells"},{"x":-7.15,"y":11.0,"c":"B cells"},
{"x":6.6,"y":12.3,"c":"B cells"},{"x":7.6,"y":11.2,"c":"B cells"},{"x":7.9,"y":10.6,"c":"B cells"},{"x":8.2,"y":10.7,"c":"B cells"},{"x":8.5,"y":10.5,"c":"B cells"},{"x":6.0,"y":10.4,"c":"B cells"},{"x":6.3,"y":10.3,"c":"B cells"},{"x":7.7,"y":10.3,"c":"B cells"},{"x":6.2,"y":11.2,"c":"B cells"},{"x":6.35,"y":10.9,"c":"B cells"},
{"x":2.0,"y":11.7,"c":"Plasma cells"},{"x":2.25,"y":11.95,"c":"Plasma cells"},{"x":2.45,"y":11.9,"c":"Plasma cells"},{"x":2.2,"y":11.6,"c":"Plasma cells"},{"x":5.5,"y":9.8,"c":"Plasma cells"},
{"x":-7.95,"y":11.6,"c":"pDC"},{"x":-8.1,"y":11.2,"c":"pDC"},{"x":-7.8,"y":11.2,"c":"pDC"},{"x":-8.0,"y":10.9,"c":"pDC"},{"x":-7.95,"y":10.5,"c":"pDC"},{"x":-7.7,"y":11.5,"c":"pDC"},{"x":-7.9,"y":10.2,"c":"pDC"},{"x":-7.5,"y":11.0,"c":"pDC"},{"x":-7.85,"y":11.8,"c":"pDC"},{"x":-7.9,"y":11.35,"c":"pDC"},{"x":-8.05,"y":10.7,"c":"pDC"},{"x":-7.95,"y":10.35,"c":"pDC"},
{"x":3.1,"y":5.7,"c":"Erythroid"},{"x":3.5,"y":5.75,"c":"Erythroid"},{"x":2.85,"y":5.35,"c":"Erythroid"},{"x":3.9,"y":5.55,"c":"Erythroid"},{"x":2.8,"y":4.95,"c":"Erythroid"},{"x":4.15,"y":5.1,"c":"Erythroid"},{"x":2.85,"y":4.55,"c":"Erythroid"},{"x":4.3,"y":4.7,"c":"Erythroid"},{"x":3.0,"y":4.2,"c":"Erythroid"},{"x":4.45,"y":4.3,"c":"Erythroid"},{"x":3.15,"y":3.85,"c":"Erythroid"},{"x":4.6,"y":3.85,"c":"Erythroid"},{"x":3.3,"y":3.45,"c":"Erythroid"},{"x":4.6,"y":3.45,"c":"Erythroid"},{"x":3.4,"y":3.05,"c":"Erythroid"},{"x":4.5,"y":3.05,"c":"Erythroid"},{"x":3.55,"y":2.7,"c":"Erythroid"},{"x":4.2,"y":2.75,"c":"Erythroid"},{"x":3.7,"y":2.45,"c":"Erythroid"},{"x":3.9,"y":2.55,"c":"Erythroid"},
{"x":3.2,"y":5.4,"c":"Erythroid"},{"x":3.15,"y":4.9,"c":"Erythroid"},{"x":3.9,"y":5.2,"c":"Erythroid"},{"x":4.0,"y":4.8,"c":"Erythroid"},{"x":4.1,"y":4.4,"c":"Erythroid"},{"x":3.2,"y":4.5,"c":"Erythroid"},{"x":3.3,"y":4.1,"c":"Erythroid"},{"x":4.2,"y":4.0,"c":"Erythroid"},{"x":4.3,"y":3.7,"c":"Erythroid"},{"x":3.5,"y":3.6,"c":"Erythroid"},{"x":3.65,"y":3.1,"c":"Erythroid"},{"x":4.35,"y":3.3,"c":"Erythroid"},{"x":3.9,"y":2.85,"c":"Erythroid"},
{"x":8.6,"y":5.5,"c":"Neutrophils"},{"x":9.1,"y":5.5,"c":"Neutrophils"},{"x":8.6,"y":5.1,"c":"Neutrophils"},{"x":9.1,"y":5.05,"c":"Neutrophils"},{"x":8.3,"y":4.85,"c":"Neutrophils"},{"x":8.7,"y":4.7,"c":"Neutrophils"},{"x":9.1,"y":4.6,"c":"Neutrophils"},{"x":9.5,"y":4.75,"c":"Neutrophils"},{"x":8.4,"y":4.4,"c":"Neutrophils"},{"x":8.8,"y":4.3,"c":"Neutrophils"},{"x":8.7,"y":3.95,"c":"Neutrophils"},{"x":9.9,"y":4.65,"c":"Neutrophils"},{"x":10.3,"y":4.5,"c":"Neutrophils"},{"x":10.7,"y":4.4,"c":"Neutrophils"},{"x":11.1,"y":4.3,"c":"Neutrophils"},{"x":11.5,"y":4.25,"c":"Neutrophils"},{"x":11.9,"y":4.45,"c":"Neutrophils"},{"x":12.2,"y":4.7,"c":"Neutrophils"},{"x":12.5,"y":4.95,"c":"Neutrophils"},{"x":8.0,"y":4.7,"c":"Neutrophils"},
{"x":8.85,"y":5.3,"c":"Neutrophils"},{"x":8.85,"y":4.95,"c":"Neutrophils"},{"x":8.9,"y":4.55,"c":"Neutrophils"},{"x":8.55,"y":4.55,"c":"Neutrophils"},{"x":9.3,"y":4.85,"c":"Neutrophils"},{"x":9.3,"y":4.55,"c":"Neutrophils"},{"x":8.25,"y":4.6,"c":"Neutrophils"},{"x":9.7,"y":4.7,"c":"Neutrophils"},{"x":10.1,"y":4.6,"c":"Neutrophils"},{"x":10.5,"y":4.45,"c":"Neutrophils"},{"x":10.9,"y":4.35,"c":"Neutrophils"},{"x":11.3,"y":4.3,"c":"Neutrophils"},{"x":11.7,"y":4.35,"c":"Neutrophils"},
{"x":-14.35,"y":-2.8,"c":"Cholangiocytes"},{"x":-14.25,"y":-3.0,"c":"Cholangiocytes"},{"x":-14.1,"y":-3.15,"c":"Cholangiocytes"}],
"km":[
{"t":0,"v":0,"g":"Low cyHSC/myHSC dysbalance"},{"t":0.92,"v":0.0037,"g":"Low cyHSC/myHSC dysbalance"},{"t":2.64,"v":0.0096,"g":"Low cyHSC/myHSC dysbalance"},{"t":3.09,"v":0.02,"g":"Low cyHSC/myHSC dysbalance"},{"t":3.175,"v":0.026,"g":"Low cyHSC/myHSC dysbalance"},{"t":3.48,"v":0.031,"g":"Low cyHSC/myHSC dysbalance"},{"t":3.55,"v":0.037,"g":"Low cyHSC/myHSC dysbalance"},{"t":3.6,"v":0.048,"g":"Low cyHSC/myHSC dysbalance"},{"t":3.64,"v":0.058,"g":"Low cyHSC/myHSC dysbalance"},{"t":4.23,"v":0.064,"g":"Low cyHSC/myHSC dysbalance"},{"t":4.31,"v":0.075,"g":"Low cyHSC/myHSC dysbalance"},{"t":4.4,"v":0.086,"g":"Low cyHSC/myHSC dysbalance"},{"t":4.48,"v":0.097,"g":"Low cyHSC/myHSC dysbalance"},{"t":4.6,"v":0.101,"g":"Low cyHSC/myHSC dysbalance"},{"t":4.98,"v":0.112,"g":"Low cyHSC/myHSC dysbalance"},{"t":5.41,"v":0.1235,"g":"Low cyHSC/myHSC dysbalance"},{"t":6.0,"v":0.129,"g":"Low cyHSC/myHSC dysbalance"},{"t":6.15,"v":0.14,"g":"Low cyHSC/myHSC dysbalance"},{"t":6.65,"v":0.145,"g":"Low cyHSC/myHSC dysbalance"},{"t":7.03,"v":0.15,"g":"Low cyHSC/myHSC dysbalance"},{"t":7.07,"v":0.161,"g":"Low cyHSC/myHSC dysbalance"},{"t":7.45,"v":0.166,"g":"Low cyHSC/myHSC dysbalance"},{"t":7.91,"v":0.1775,"g":"Low cyHSC/myHSC dysbalance"},{"t":7.98,"v":0.183,"g":"Low cyHSC/myHSC dysbalance"},{"t":8.29,"v":0.194,"g":"Low cyHSC/myHSC dysbalance"},{"t":8.58,"v":0.2,"g":"Low cyHSC/myHSC dysbalance"},{"t":9.17,"v":0.21,"g":"Low cyHSC/myHSC dysbalance"},{"t":9.46,"v":0.221,"g":"Low cyHSC/myHSC dysbalance"},{"t":9.87,"v":0.2425,"g":"Low cyHSC/myHSC dysbalance"},{"t":10,"v":0.2425,"g":"Low cyHSC/myHSC dysbalance"},
{"t":0,"v":0,"g":"High cyHSC/myHSC dysbalance"},{"t":0.455,"v":0.0155,"g":"High cyHSC/myHSC dysbalance"},{"t":0.665,"v":0.0325,"g":"High cyHSC/myHSC dysbalance"},{"t":1.59,"v":0.049,"g":"High cyHSC/myHSC dysbalance"},{"t":1.76,"v":0.069,"g":"High cyHSC/myHSC dysbalance"},{"t":1.8,"v":0.085,"g":"High cyHSC/myHSC dysbalance"},{"t":2.05,"v":0.102,"g":"High cyHSC/myHSC dysbalance"},{"t":2.39,"v":0.118,"g":"High cyHSC/myHSC dysbalance"},{"t":2.43,"v":0.1405,"g":"High cyHSC/myHSC dysbalance"},{"t":2.5,"v":0.157,"g":"High cyHSC/myHSC dysbalance"},{"t":3.26,"v":0.172,"g":"High cyHSC/myHSC dysbalance"},{"t":3.77,"v":0.194,"g":"High cyHSC/myHSC dysbalance"},{"t":4.61,"v":0.216,"g":"High cyHSC/myHSC dysbalance"},{"t":5.14,"v":0.2315,"g":"High cyHSC/myHSC dysbalance"},{"t":5.31,"v":0.254,"g":"High cyHSC/myHSC dysbalance"},{"t":5.35,"v":0.275,"g":"High cyHSC/myHSC dysbalance"},{"t":5.47,"v":0.291,"g":"High cyHSC/myHSC dysbalance"},{"t":5.94,"v":0.313,"g":"High cyHSC/myHSC dysbalance"},{"t":7.16,"v":0.341,"g":"High cyHSC/myHSC dysbalance"},{"t":7.54,"v":0.389,"g":"High cyHSC/myHSC dysbalance"},{"t":8.66,"v":0.4155,"g":"High cyHSC/myHSC dysbalance"},{"t":10,"v":0.4155,"g":"High cyHSC/myHSC dysbalance"}],
"risk":[{"t":0,"r":"Patient at risk","n":"0"},{"t":2,"r":"Patient at risk","n":"2"},{"t":4,"r":"Patient at risk","n":"4"},{"t":6,"r":"Patient at risk","n":"6"},{"t":8,"r":"Patient at risk","n":"8"},{"t":10,"r":"Patient at risk","n":"10"},{"t":0,"r":"High dysbalance","n":"58"},{"t":2,"r":"High dysbalance","n":"53"},{"t":4,"r":"High dysbalance","n":"42"},{"t":6,"r":"High dysbalance","n":"34"},{"t":8,"r":"High dysbalance","n":"23"},{"t":10,"r":"High dysbalance","n":"17"},{"t":0,"r":"Low dysbalance","n":"158"},{"t":2,"r":"Low dysbalance","n":"153"},{"t":4,"r":"Low dysbalance","n":"137"},{"t":6,"r":"Low dysbalance","n":"121"},{"t":8,"r":"Low dysbalance","n":"99"},{"t":10,"r":"Low dysbalance","n":"74"}]
},
"vconcat":[
{"hconcat":[
{"width":651,"height":373.3,
"layer":[
{"data":{"name":"core"},"mark":{"type":"circle","size":215,"opacity":1},"encoding":{"x":{"field":"x","type":"quantitative","scale":{"domain":[-15.7,13.85],"range":[-86,290],"nice":false,"zero":false},"axis":{"values":[-15,-10,-5,0,5,10],"title":"UMAP_1","titleFontSize":13,"titleFontWeight":"normal","titlePadding":3,"labelFontSize":12,"labelColor":"#333","tickSize":3,"tickColor":"#333","domainColor":"#333","domainWidth":2}},"y":{"field":"y","type":"quantitative","scale":{"domain":[-10.87,13.95],"range":[371,4.3],"nice":false,"zero":false},"axis":{"offset":86,"values":[-10,-5,0,5,10],"title":"UMAP_2","titleFontSize":13,"titleFontWeight":"normal","titlePadding":3,"labelFontSize":12,"labelColor":"#333","tickSize":3,"tickColor":"#333","domainColor":"#333","domainWidth":1.5}},"color":{"field":"c","type":"nominal","scale":{"domain":["myHSC","cyHSC","Cholangiocytes","Hepatocytes","Mesothelial","Endothelial cells","Macrophages","Kupffer cells","Monocytes","B cells","Plasma cells","NK/NKT/T cells","Erythroid","pDC","Neutrophils"],"range":["#c9509f","#f7b6b8","#7f3f9a","#17457f","#ffcc00","#95973a","#fdbb6e","#f57f20","#6f8fcc","#3bb54a","#b2d98a","#a81c36","#bbbbbb","#545537","#cc1f27"]},"legend":{"orient":"none","legendX":333.5,"legendY":28,"title":null,"padding":7,"strokeColor":"black","labelFontSize":21,"labelOffset":1.5,"labelLimit":400,"symbolType":"circle","symbolSize":272,"symbolStrokeWidth":0,"symbolOpacity":1,"rowPadding":0,"clipHeight":21,"values":["myHSC","cyHSC","Cholangiocytes","Hepatocytes","Mesothelial","Endothelial cells","Macrophages","Kupffer cells","Monocytes","B cells","Plasma cells","NK/NKT/T cells","Erythroid","pDC","Neutrophils"]}}}},
{"data":{"name":"edge"},"mark":{"type":"circle","size":50,"opacity":1},"encoding":{"x":{"field":"x","type":"quantitative"},"y":{"field":"y","type":"quantitative"},"color":{"field":"c","type":"nominal"}}},
{"data":{"name":"hsc"},"mark":{"type":"circle","size":50,"opacity":1},"encoding":{"x":{"field":"x","type":"quantitative"},"y":{"field":"y","type":"quantitative"},"color":{"field":"c","type":"nominal"}}},
{"data":{"values":[{"x":-0.3,"y":15.65,"t":"Cell identity"}]},"mark":{"type":"text","fontSize":37.5,"fontWeight":"bold","baseline":"alphabetic","color":"black"},"encoding":{"x":{"field":"x","type":"quantitative"},"y":{"field":"y","type":"quantitative"},"text":{"field":"t"}}},
{"data":{"values":[{"x":-23.65,"y":18.76,"t":"a"}]},"mark":{"type":"text","fontSize":72,"fontWeight":"bold","align":"left","baseline":"alphabetic","color":"black"},"encoding":{"x":{"field":"x","type":"quantitative"},"y":{"field":"y","type":"quantitative"},"text":{"field":"t"}}}
]},
{"width":513.5,"height":373.3,
"layer":[
{"data":{"name":"core"},"transform":[{"lookup":"c","from":{"data":{"name":"expr"},"key":"c","fields":["m","k"]}}],"mark":{"type":"circle","size":215,"opacity":1},"encoding":{"x":{"field":"x","type":"quantitative","scale":{"domain":[-16.46,14.34],"range":[0,369],"nice":false,"zero":false},"axis":{"values":[-15,-10,-5,0,5,10],"title":"UMAP_1","titleFontSize":13,"titleFontWeight":"normal","titlePadding":3,"labelFontSize":12,"labelColor":"#333","tickSize":3,"tickColor":"#333","domainColor":"#333","domainWidth":2}},"y":{"field":"y","type":"quantitative","scale":{"domain":[-11.13,14.16],"nice":false,"zero":false},"axis":{"values":[-10,-5,0,5,10],"title":"UMAP_2","titleFontSize":13,"titleFontWeight":"normal","titlePadding":3,"labelFontSize":12,"labelColor":"#333","tickSize":3,"tickColor":"#333","domainColor":"#333","domainWidth":1.5}},"color":{"field":"m","type":"quantitative","scale":{"scheme":"viridis","domain":[-0.2,2.03]},"legend":{"orient":"none","legendX":381,"legendY":-5.7,"title":null,"gradientLength":133,"gradientThickness":26,"labelFontSize":21,"labelOffset":12,"values":[0,0.5,1,1.5,2],"format":".1f","labelOverlap":false}}}},
{"data":{"name":"edge"},"transform":[{"lookup":"c","from":{"data":{"name":"expr"},"key":"c","fields":["m","k"]}}],"mark":{"type":"circle","size":70,"opacity":1},"encoding":{"x":{"field":"x","type":"quantitative"},"y":{"field":"y","type":"quantitative"},"color":{"field":"m","type":"quantitative"}}},
{"data":{"name":"hsc"},"mark":{"type":"circle","size":60,"opacity":1},"encoding":{"x":{"field":"x","type":"quantitative"},"y":{"field":"y","type":"quantitative"},"color":{"field":"m","type":"quantitative"}}},
{"data":{"values":[{"x":-1.85,"y":15.99,"t":"myHSC"}]},"mark":{"type":"text","fontSize":37.5,"fontWeight":"bold","baseline":"alphabetic","color":"black"},"encoding":{"x":{"field":"x","type":"quantitative"},"y":{"field":"y","type":"quantitative"},"text":{"field":"t"}}}
]},
{"width":368,"height":373.3,
"layer":[
{"data":{"name":"core"},"transform":[{"lookup":"c","from":{"data":{"name":"expr"},"key":"c","fields":["m","k"]}}],"mark":{"type":"circle","size":215,"opacity":1},"encoding":{"x":{"field":"x","type":"quantitative","scale":{"domain":[-16.33,14.33],"nice":false,"zero":false},"axis":{"values":[-15,-10,-5,0,5,10],"title":"UMAP_1","titleFontSize":13,"titleFontWeight":"normal","titlePadding":3,"labelFontSize":12,"labelColor":"#333","tickSize":3,"tickColor":"#333","domainColor":"#333","domainWidth":2}},"y":{"field":"y","type":"quantitative","scale":{"domain":[-11.13,14.16],"nice":false,"zero":false},"axis":{"values":[-10,-5,0,5,10],"title":"UMAP_2","titleFontSize":13,"titleFontWeight":"normal","titlePadding":3,"labelFontSize":12,"labelColor":"#333","tickSize":3,"tickColor":"#333","domainColor":"#333","domainWidth":1.5}},"color":{"field":"k","type":"quantitative","scale":{"scheme":"viridis","domain":[-0.2,1.63]},"legend":{"orient":"none","legendX":359.5,"legendY":-6.7,"title":null,"gradientLength":133,"gradientThickness":26,"labelFontSize":21,"labelOffset":12,"values":[0,0.5,1,1.5],"format":".1f","labelOverlap":false}}}},
{"data":{"name":"edge"},"transform":[{"lookup":"c","from":{"data":{"name":"expr"},"key":"c","fields":["m","k"]}}],"mark":{"type":"circle","size":70,"opacity":1},"encoding":{"x":{"field":"x","type":"quantitative"},"y":{"field":"y","type":"quantitative"},"color":{"field":"k","type":"quantitative"}}},
{"data":{"name":"hsc"},"mark":{"type":"circle","size":60,"opacity":1},"encoding":{"x":{"field":"x","type":"quantitative"},"y":{"field":"y","type":"quantitative"},"color":{"field":"k","type":"quantitative"}}},
{"data":{"values":[{"x":-2.53,"y":15.99,"t":"cyHSC"}]},"mark":{"type":"text","fontSize":37.5,"fontWeight":"bold","baseline":"alphabetic","color":"black"},"encoding":{"x":{"field":"x","type":"quantitative"},"y":{"field":"y","type":"quantitative"},"text":{"field":"t"}}}
]}
],"spacing":0,"bounds":"flush","resolve":{"scale":{"color":"independent"},"legend":{"color":"independent"}}},
{"hconcat":[
{"width":428.4,"height":469,
"resolve":{"scale":{"x":"independent"}},
"layer":[
{"data":{"values":[{"g":"-","p":0.136},{"g":"+","p":0.532}]},"mark":{"type":"bar","color":"#4d4d4d","stroke":"black","strokeWidth":1.5},"encoding":{"x":{"field":"g","type":"nominal","sort":["-","+"],"scale":{"domain":["-","+"],"range":[0,164],"paddingInner":0.17,"paddingOuter":0.22},"axis":{"title":"Cirrhosis","titleFontSize":37,"titleFontWeight":"normal","titleX":-74,"titleY":48,"titleAlign":"center","titleBaseline":"alphabetic","labelFontSize":35,"labelColor":"black","labelAngle":0,"labelPadding":16,"ticks":false,"tickSize":0,"domainColor":"black","domainWidth":2}},"y":{"field":"p","type":"quantitative","scale":{"domain":[0,1],"range":[469,42.6],"nice":false},"axis":{"values":[0,0.2,0.4,0.6,0.8,1],"format":".1f","tickSize":20,"tickWidth":2,"tickColor":"black","domainColor":"black","domainWidth":2,"labelFontSize":35,"labelColor":"black","labelPadding":3,"title":["Proportion of patients with","cyHSC-myHSC dysbalance"],"titleFontSize":34.5,"titleFontWeight":"normal","titleLineHeight":43,"titleX":-138,"titleY":254,"titleAngle":-90,"titleAlign":"center","titleBaseline":"alphabetic"}}}},
{"data":{"values":[{"a":-0.356,"b":0.92,"p":1.112},{"a":0.287,"b":0.705,"p":0.884}]},"mark":{"type":"rule","color":"black","strokeWidth":2.5},"encoding":{"x":{"field":"a","type":"quantitative","scale":{"domain":[0,1],"range":[0,164],"nice":false,"zero":false},"axis":null},"x2":{"field":"b"},"y":{"field":"p","type":"quantitative"}}},
{"data":{"values":[{"a":0.5,"p":0.915,"t":"p = 0.012"}]},"mark":{"type":"text","fontSize":24.5,"baseline":"middle","color":"black"},"encoding":{"x":{"field":"a","type":"quantitative","scale":{"domain":[0,1],"range":[0,164],"nice":false,"zero":false},"axis":null},"y":{"field":"p","type":"quantitative"},"text":{"field":"t"}}},
{"data":{"values":[{"a":0.28,"p":1.122,"t":"HCV cohort"}]},"mark":{"type":"text","fontSize":37.5,"fontWeight":"bold","baseline":"alphabetic","color":"black"},"encoding":{"x":{"field":"a","type":"quantitative","scale":{"domain":[0,1],"range":[0,164],"nice":false,"zero":false},"axis":null},"y":{"field":"p","type":"quantitative"},"text":{"field":"t"}}},
{"data":{"values":[{"a":-1.14,"p":1.28,"t":"b"}]},"mark":{"type":"text","fontSize":72,"fontWeight":"bold","align":"left","baseline":"alphabetic","color":"black"},"encoding":{"x":{"field":"a","type":"quantitative","scale":{"domain":[0,1],"range":[0,164],"nice":false,"zero":false},"axis":null},"y":{"field":"p","type":"quantitative"},"text":{"field":"t"}}}
]},
{"width":581.1,"height":471,
"resolve":{"scale":{"x":"independent"}},
"layer":[
{"data":{"values":[{"g":"-","p":0.128},{"g":"+","p":0.781}]},"mark":{"type":"bar","color":"#4d4d4d","stroke":"black","strokeWidth":1.5},"encoding":{"x":{"field":"g","type":"nominal","sort":["-","+"],"scale":{"domain":["-","+"],"range":[0,152],"paddingInner":0.16,"paddingOuter":0.143,"align":0.27},"axis":{"title":["Advanced","fibrosis"],"titleFontSize":37,"titleFontWeight":"normal","titleLineHeight":47,"titleX":-97,"titleY":53,"titleAlign":"center","titleBaseline":"alphabetic","labelFontSize":35,"labelColor":"black","labelAngle":0,"labelPadding":16,"labelOffset":-8,"ticks":false,"tickSize":0,"domainColor":"black","domainWidth":2}},"y":{"field":"p","type":"quantitative","scale":{"domain":[0,1],"range":[471,44.6],"nice":false},"axis":{"values":[0,0.2,0.4,0.6,0.8,1],"format":".1f","tickSize":20,"tickWidth":2,"tickColor":"black","domainColor":"black","domainWidth":2,"labelFontSize":35,"labelColor":"black","labelPadding":3,"title":["Proportion of patients with","cyHSC-myHSC dysbalance"],"titleFontSize":34.5,"titleFontWeight":"normal","titleLineHeight":46,"titleX":-146,"titleY":248.6,"titleAngle":-90,"titleAlign":"center","titleBaseline":"alphabetic"}}}},
{"data":{"values":[{"a":-0.562,"b":1.109,"p":1.116},{"a":0.287,"b":0.741,"p":0.902}]},"mark":{"type":"rule","color":"black","strokeWidth":2.5},"encoding":{"x":{"field":"a","type":"quantitative","scale":{"domain":[0,1],"range":[0,152],"nice":false,"zero":false},"axis":null},"x2":{"field":"b"},"y":{"field":"p","type":"quantitative"}}},
{"data":{"values":[{"a":0.517,"p":0.934,"t":"p <0.001"}]},"mark":{"type":"text","fontSize":24.5,"baseline":"middle","color":"black"},"encoding":{"x":{"field":"a","type":"quantitative","scale":{"domain":[0,1],"range":[0,152],"nice":false,"zero":false},"axis":null},"y":{"field":"p","type":"quantitative"},"text":{"field":"t"}}},
{"data":{"values":[{"a":0.274,"p":1.127,"t":"NAFLD cohort"}]},"mark":{"type":"text","fontSize":37.5,"fontWeight":"bold","baseline":"alphabetic","color":"black"},"encoding":{"x":{"field":"a","type":"quantitative","scale":{"domain":[0,1],"range":[0,152],"nice":false,"zero":false},"axis":null},"y":{"field":"p","type":"quantitative"},"text":{"field":"t"}}}
]},
{"width":582.5,"height":450.7,
"resolve":{"scale":{"y":"independent"}},
"layer":[
{"data":{"name":"km"},"mark":{"type":"line","interpolate":"step-after","strokeWidth":3.2},"encoding":{"x":{"field":"t","type":"quantitative","scale":{"domain":[0,10],"nice":false,"zero":false},"axis":{"values":[0,2,4,6,8,10],"labels":false,"title":null,"offset":20,"tickSize":21,"tickWidth":2,"tickColor":"black","domainColor":"black","domainWidth":2}},"y":{"field":"v","type":"quantitative","scale":{"domain":[0,1],"nice":false},"axis":{"orient":"left","offset":24.5,"values":[0,0.2,0.4,0.6,0.8,1],"format":".1f","tickSize":22,"tickWidth":2,"tickColor":"black","domainColor":"black","domainWidth":2,"labelFontSize":36,"labelColor":"black","labelPadding":7,"title":"Incident HCC","titleFontSize":38,"titleFontWeight":"normal","titleX":-133,"titleY":223,"titleAngle":-90,"titleAlign":"center","titleBaseline":"alphabetic"}},"color":{"field":"g","type":"nominal","scale":{"domain":["Low cyHSC/myHSC dysbalance","High cyHSC/myHSC dysbalance"],"range":["#4a8ed4","#c4161c"]},"legend":{"orient":"none","legendX":51,"legendY":-2,"title":null,"padding":7,"strokeColor":"black","labelFontSize":31,"labelOffset":12.6,"labelLimit":600,"symbolType":"stroke","symbolSize":1849,"symbolStrokeWidth":4,"symbolOffset":9,"rowPadding":5.5,"clipHeight":31}}}},
{"data":{"name":"risk"},"mark":{"type":"text","fontSize":34,"color":"black","baseline":"middle"},"encoding":{"x":{"field":"t","type":"quantitative"},"y":{"field":"r","type":"nominal","scale":{"type":"point","padding":0,"domain":["Patient at risk","High dysbalance","Low dysbalance"],"range":[515,598]},"axis":{"orient":"left","title":null,"ticks":false,"domain":false,"labelFontSize":34.8,"labelColor":"black","labelPadding":69.5,"labelLimit":400}},"text":{"field":"n"}}},
{"data":{"values":[{"t":0.98,"p":0.603,"s":"Log-rank, p = 0.003"}]},"mark":{"type":"text","fontSize":31,"align":"left","baseline":"middle","color":"black"},"encoding":{"x":{"field":"t","type":"quantitative"},"y":{"field":"p","type":"quantitative","scale":{"domain":[0,1],"nice":false},"axis":null},"text":{"field":"s"}}},
{"data":{"values":[{"t":-5.52,"p":1.171,"s":"c"}]},"mark":{"type":"text","fontSize":72,"fontWeight":"bold","align":"left","baseline":"alphabetic","color":"black"},"encoding":{"x":{"field":"t","type":"quantitative"},"y":{"field":"p","type":"quantitative","scale":{"domain":[0,1],"nice":false},"axis":null},"text":{"field":"s"}}}
]}
],"spacing":0,"bounds":"flush","resolve":{"scale":{"color":"independent"},"legend":{"color":"independent"}}}
],"spacing":53}
